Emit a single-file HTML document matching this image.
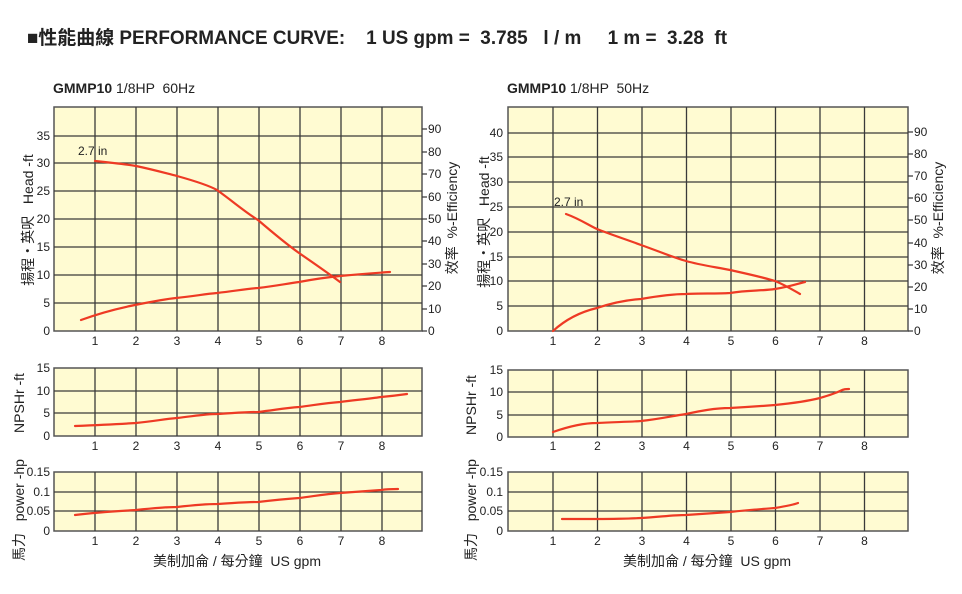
<!DOCTYPE html>
<html><head><meta charset="utf-8"><style>
body{margin:0;background:#fff}
svg{display:block}
text{font-family:"Liberation Sans","Noto Sans CJK TC",sans-serif;fill:#222;white-space:pre}
.t{font-size:12px}
.g{stroke:#3a3a3a;stroke-width:1.3;fill:none}
.f{fill:#fffbd2;stroke:#555;stroke-width:1.5}
.c{fill:none;stroke:#ee3a24;stroke-width:2.2;stroke-linecap:round;stroke-linejoin:round}
</style></head><body>
<svg width="962" height="594" viewBox="0 0 962 594" xml:space="preserve">
<text x="27" y="44" font-size="19" font-weight="bold" textLength="700" lengthAdjust="spacingAndGlyphs">■性能曲線 PERFORMANCE CURVE:    1 US gpm =  3.785   l / m     1 m =  3.28  ft</text>
<text x="53" y="93" font-size="14"><tspan font-weight="bold">GMMP10</tspan> 1/8HP  60Hz</text>
<text x="507" y="93" font-size="14"><tspan font-weight="bold">GMMP10</tspan> 1/8HP  50Hz</text>

<!-- LEFT TOP -->
<rect class="f" x="54" y="107" width="368" height="224"/>
<path class="g" d="M95 107V331M136 107V331M177 107V331M218 107V331M259 107V331M300 107V331M341 107V331M382 107V331M54 303H422M54 275H422M54 247H422M54 219H422M54 191H422M54 163H422M54 136H422"/>
<g class="t" text-anchor="end"><text x="50" y="335">0</text><text x="50" y="307">5</text><text x="50" y="279">10</text><text x="50" y="251">15</text><text x="50" y="223">20</text><text x="50" y="195">25</text><text x="50" y="167">30</text><text x="50" y="140">35</text></g>
<g class="t" text-anchor="middle"><text x="95" y="345">1</text><text x="136" y="345">2</text><text x="177" y="345">3</text><text x="218" y="345">4</text><text x="259" y="345">5</text><text x="300" y="345">6</text><text x="341" y="345">7</text><text x="382" y="345">8</text></g>
<path class="g" d="M422 331h5M422 309h5M422 286h5M422 264h5M422 241h5M422 219h5M422 197h5M422 174h5M422 152h5M422 129h5"/>
<g class="t"><text x="428" y="335">0</text><text x="428" y="313">10</text><text x="428" y="290">20</text><text x="428" y="268">30</text><text x="428" y="245">40</text><text x="428" y="223">50</text><text x="428" y="201">60</text><text x="428" y="178">70</text><text x="428" y="156">80</text><text x="428" y="133">90</text></g>
<text class="t" x="78" y="155">2.7 in</text>
<path class="c" d="M95 161C115 163 130 165 136 166C155 170 165 173 177 176C195 181 208 185 217 190C235 203 245 212 258 220C272 232 285 243 299 253C315 264 328 273 340 282"/>
<path class="c" d="M81 320C100 313 120 308 135 305C150 302 165 299 176 298C195 296 205 294 217 293C235 291 245 289 258 288C275 286 285 284 299 282C315 279 330 277 340 276C360 274 375 273 390 272"/>
<text font-size="14" transform="translate(33 220) rotate(-90)" text-anchor="middle">揚程・英呎   Head -ft</text>
<text font-size="14" transform="translate(457 218) rotate(-90)" text-anchor="middle">效率  %-Efficiency</text>

<!-- RIGHT TOP -->
<rect class="f" x="508" y="107" width="400" height="224"/>
<path class="g" d="M553 107V331M597.5 107V331M642 107V331M686.5 107V331M731 107V331M775.5 107V331M820 107V331M864.5 107V331M508 306H908M508 281H908M508 257H908M508 232H908M508 207H908M508 182H908M508 157H908M508 133H908"/>
<g class="t" text-anchor="end"><text x="503" y="335">0</text><text x="503" y="310">5</text><text x="503" y="285">10</text><text x="503" y="261">15</text><text x="503" y="236">20</text><text x="503" y="211">25</text><text x="503" y="186">30</text><text x="503" y="161">35</text><text x="503" y="137">40</text></g>
<g class="t" text-anchor="middle"><text x="553" y="345">1</text><text x="597.5" y="345">2</text><text x="642" y="345">3</text><text x="686.5" y="345">4</text><text x="731" y="345">5</text><text x="775.5" y="345">6</text><text x="820" y="345">7</text><text x="864.5" y="345">8</text></g>
<path class="g" d="M908 331h5M908 309h5M908 287h5M908 265h5M908 243h5M908 220h5M908 198h5M908 176h5M908 154h5M908 132h5"/>
<g class="t"><text x="914" y="335">0</text><text x="914" y="313">10</text><text x="914" y="291">20</text><text x="914" y="269">30</text><text x="914" y="247">40</text><text x="914" y="224">50</text><text x="914" y="202">60</text><text x="914" y="180">70</text><text x="914" y="158">80</text><text x="914" y="136">90</text></g>
<text class="t" x="554" y="206">2.7 in</text>
<path class="c" d="M566 214C580 219 590 226 597 229C612 235 628 240 641 245C658 251 672 257 686 261C700 265 715 267 730 270C748 274 762 277 775 281C785 285 793 290 800 294"/>
<path class="c" d="M553 331C565 320 580 312 597 308C612 303 626 300 641 299C658 296 672 294 686 294C700 293 715 294 730 293C748 290 762 291 775 289C788 287 797 284 805 282"/>
<text font-size="14" transform="translate(489 222) rotate(-90)" text-anchor="middle">揚程・英呎   Head -ft</text>
<text font-size="14" transform="translate(943 218) rotate(-90)" text-anchor="middle">效率  %-Efficiency</text>

<!-- LEFT NPSH -->
<rect class="f" x="54" y="368" width="368" height="68"/>
<path class="g" d="M95 368V436M136 368V436M177 368V436M218 368V436M259 368V436M300 368V436M341 368V436M382 368V436M54 413H422M54 391H422"/>
<g class="t" text-anchor="end"><text x="50" y="440">0</text><text x="50" y="417">5</text><text x="50" y="395">10</text><text x="50" y="372">15</text></g>
<g class="t" text-anchor="middle"><text x="95" y="450">1</text><text x="136" y="450">2</text><text x="177" y="450">3</text><text x="218" y="450">4</text><text x="259" y="450">5</text><text x="300" y="450">6</text><text x="341" y="450">7</text><text x="382" y="450">8</text></g>
<path class="c" d="M75 426C100 425 120 424 136 423C155 421 165 419 177 418C195 416 205 414 217 414C235 413 245 412 258 412C275 410 285 408 299 407C315 405 325 403 340 402C355 400 368 399 381 397C392 396 400 395 407 394"/>
<text font-size="14" transform="translate(24 403) rotate(-90)" text-anchor="middle">NPSHr -ft</text>

<!-- LEFT POWER -->
<rect class="f" x="54" y="472" width="368" height="59"/>
<path class="g" d="M95 472V531M136 472V531M177 472V531M218 472V531M259 472V531M300 472V531M341 472V531M382 472V531M54 511H422M54 492H422"/>
<g class="t" text-anchor="end"><text x="50" y="535">0</text><text x="50" y="515">0.05</text><text x="50" y="496">0.1</text><text x="50" y="476">0.15</text></g>
<g class="t" text-anchor="middle"><text x="95" y="545">1</text><text x="136" y="545">2</text><text x="177" y="545">3</text><text x="218" y="545">4</text><text x="259" y="545">5</text><text x="300" y="545">6</text><text x="341" y="545">7</text><text x="382" y="545">8</text></g>
<path class="c" d="M75 515C100 512 120 511 136 510C155 508 165 507 177 507C195 505 205 504 217 504C235 503 245 502 258 502C275 500 285 499 299 498C315 496 325 494 340 493C355 492 368 491 381 490C388 489 393 489 398 489"/>
<text font-size="14" transform="translate(24 510) rotate(-90)" text-anchor="middle">馬力   power -hp</text>
<text font-size="14" x="237" y="566" text-anchor="middle">美制加侖 / 每分鐘  US gpm</text>

<!-- RIGHT NPSH -->
<rect class="f" x="508" y="370" width="400" height="67"/>
<path class="g" d="M553 370V437M597.5 370V437M642 370V437M686.5 370V437M731 370V437M775.5 370V437M820 370V437M864.5 370V437M508 415H908M508 392H908"/>
<g class="t" text-anchor="end"><text x="503" y="441">0</text><text x="503" y="419">5</text><text x="503" y="396">10</text><text x="503" y="374">15</text></g>
<g class="t" text-anchor="middle"><text x="553" y="450">1</text><text x="597.5" y="450">2</text><text x="642" y="450">3</text><text x="686.5" y="450">4</text><text x="731" y="450">5</text><text x="775.5" y="450">6</text><text x="820" y="450">7</text><text x="864.5" y="450">8</text></g>
<path class="c" d="M553 432C570 426 585 423 597 423C615 422 628 422 641 421C660 419 672 416 686 414C700 411 715 408 730 408C748 407 762 406 775 405C795 403 808 401 820 398C830 395 836 393 840 391C844 389 846 389 849 389"/>
<text font-size="14" transform="translate(476 405) rotate(-90)" text-anchor="middle">NPSHr -ft</text>

<!-- RIGHT POWER -->
<rect class="f" x="508" y="472" width="400" height="59"/>
<path class="g" d="M553 472V531M597.5 472V531M642 472V531M686.5 472V531M731 472V531M775.5 472V531M820 472V531M864.5 472V531M508 511H908M508 492H908"/>
<g class="t" text-anchor="end"><text x="503" y="535">0</text><text x="503" y="515">0.05</text><text x="503" y="496">0.1</text><text x="503" y="476">0.15</text></g>
<g class="t" text-anchor="middle"><text x="553" y="545">1</text><text x="597.5" y="545">2</text><text x="642" y="545">3</text><text x="686.5" y="545">4</text><text x="731" y="545">5</text><text x="775.5" y="545">6</text><text x="820" y="545">7</text><text x="864.5" y="545">8</text></g>
<path class="c" d="M562 519C575 519 588 519 597 519C612 519 626 519 641 518C660 517 672 515 686 515C700 514 715 513 730 512C748 510 762 509 775 508C787 506 793 505 798 503"/>
<text font-size="14" transform="translate(476 510) rotate(-90)" text-anchor="middle">馬力   power -hp</text>
<text font-size="14" x="707" y="566" text-anchor="middle">美制加侖 / 每分鐘  US gpm</text>
</svg>
</body></html>
